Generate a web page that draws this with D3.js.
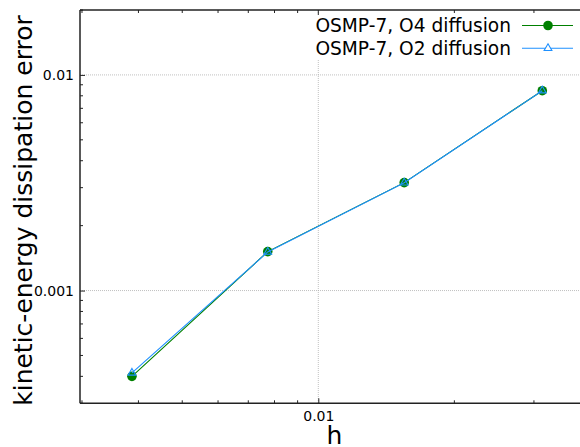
<!DOCTYPE html>
<html><head><meta charset="utf-8">
<script src="https://cdn.jsdelivr.net/npm/d3@7"></script>
<style>body{margin:0;background:#fff}svg{display:block}text{font-family:"DejaVu Sans",sans-serif}</style>
</head><body>
<script>
const hValues = [0.00387, 0.00773, 0.01549, 0.0313];
const o4Errors = [0.000400, 0.001516, 0.003166, 0.00845];
const o2Errors = [0.000415, 0.001510, 0.003160, 0.00845];
const seriesNames = ["OSMP-7, O4 diffusion", "OSMP-7, O2 diffusion"];
const xTickLabels = [0.01];
const yTickLabels = [0.001, 0.01];
const xMinorTicks = [0.003,0.004,0.005,0.006,0.007,0.008,0.009,0.02,0.03,0.04];
const yMinorTicks = [0.0003,0.0004,0.0005,0.0006,0.0007,0.0008,0.0009,0.002,0.003,0.004,0.005,0.006,0.007,0.008,0.009,0.02];

const W = 580, H = 447;
const L = 80, R = 600, T = 10, B = 403.3;
const svg = d3.select("body").append("svg").attr("width", W).attr("height", H);
const x = d3.scaleLog().domain([0.00297, 0.042]).range([L, R]);
const y = d3.scaleLog().domain([0.0003, 0.02]).range([B, T]);

svg.append("defs").append("clipPath").attr("id","c").append("rect")
  .attr("x", L).attr("y", T).attr("width", R-L).attr("height", B-T);

// grid
const grid = svg.append("g").attr("stroke","#b0b0b0").attr("stroke-width",0.8).attr("stroke-dasharray","1,1");
grid.selectAll(".gx").data(xTickLabels).join("line").attr("x1",d=>x(d)).attr("x2",d=>x(d)).attr("y1",T).attr("y2",B);
grid.selectAll(".gy").data(yTickLabels).join("line").attr("y1",d=>y(d)).attr("y2",d=>y(d)).attr("x1",L).attr("x2",R);

// legend background
svg.append("rect").attr("x",308).attr("y",13).attr("width",272).attr("height",46).attr("fill","#fff");

const fmt = d => d.toString();
const style = g=>{g.select(".domain").remove();
  g.selectAll("text").attr("font-size",14).attr("fill","#000").attr("font-family","DejaVu Sans");
  g.selectAll("line").attr("stroke","#222");};
svg.append("g").attr("transform",`translate(0,${B})`)
  .call(d3.axisBottom(x).tickValues(xTickLabels).tickFormat(fmt).tickSize(-5).tickPadding(8))
  .call(style);
svg.append("g").attr("transform",`translate(${L},0)`)
  .call(d3.axisLeft(y).tickValues(yTickLabels).tickFormat(fmt).tickSize(-5).tickPadding(6))
  .call(style);
// top ticks and minor ticks
svg.append("g").selectAll("line").data(xTickLabels).join("line")
  .attr("x1",d=>x(d)).attr("x2",d=>x(d)).attr("y1",T).attr("y2",T+5).attr("stroke","#222");
svg.append("g").selectAll("line").data(xMinorTicks).join("line")
  .attr("x1",d=>x(d)).attr("x2",d=>x(d)).attr("y1",T).attr("y2",T+3).attr("stroke","#222");
svg.append("g").selectAll("line").data(xMinorTicks).join("line")
  .attr("x1",d=>x(d)).attr("x2",d=>x(d)).attr("y1",B).attr("y2",B-3).attr("stroke","#222");
svg.append("g").selectAll("line").data(yMinorTicks).join("line")
  .attr("y1",d=>y(d)).attr("y2",d=>y(d)).attr("x1",L).attr("x2",L+3).attr("stroke","#222");
// frame
svg.append("line").attr("x1",L).attr("x2",R).attr("y1",T).attr("y2",T).attr("stroke","#222").attr("stroke-width",1.5);
svg.append("line").attr("x1",L).attr("x2",R).attr("y1",B).attr("y2",B).attr("stroke","#222").attr("stroke-width",1.5);
svg.append("line").attr("x1",L).attr("x2",L).attr("y1",T).attr("y2",B).attr("stroke","#222").attr("stroke-width",1.5);

// labels
svg.append("text").attr("x",334.5).attr("y",443.5).attr("text-anchor","middle").attr("font-size",25).text("h");
svg.append("text").attr("transform","translate(31.5,210.5) rotate(-90)").attr("text-anchor","middle").attr("font-size",25).text("kinetic-energy dissipation error");

// series
const plot = svg.append("g").attr("clip-path","url(#c)");
const line = d3.line().x(d=>x(d[0])).y(d=>y(d[1]));
const green = "#008000", blue = "#1e90ff";
const d4 = hValues.map((h,i)=>[h,o4Errors[i]]);
const d2 = hValues.map((h,i)=>[h,o2Errors[i]]);
plot.append("path").datum(d4).attr("d",line).attr("fill","none").attr("stroke",green).attr("stroke-width",1.1);
plot.selectAll(".c4").data(d4).join("circle").attr("cx",d=>x(d[0])).attr("cy",d=>y(d[1])).attr("r",4.8).attr("fill",green);
plot.append("path").datum(d2).attr("d",line).attr("fill","none").attr("stroke",blue).attr("stroke-width",1.1);
const tri = d3.symbol().type(d3.symbolTriangle).size(26);
plot.selectAll(".t2").data(d2).join("path").attr("d",tri)
  .attr("transform",d=>`translate(${x(d[0])},${y(d[1])})`).attr("fill","none").attr("stroke",blue).attr("stroke-width",1.1);

// legend
const lg = svg.append("g");
const rows = [{c:green,k:"c"},{c:blue,k:"t"}];
rows.forEach((r,i)=>{
  const yy = 25.5 + i*22.7;
  lg.append("text").attr("x",511).attr("y",yy+6.8).attr("text-anchor","end").attr("font-size",18.6).text(seriesNames[i]);
  lg.append("line").attr("x1",522).attr("x2",573).attr("y1",yy).attr("y2",yy).attr("stroke",r.c).attr("stroke-width",1.1);
  if(r.k==="c") lg.append("circle").attr("cx",548).attr("cy",yy).attr("r",4.8).attr("fill",r.c);
  else lg.append("path").attr("d",tri).attr("transform",`translate(548,${yy})`).attr("fill","#fff").attr("stroke",r.c).attr("stroke-width",1.1);
});
</script>
</body></html>
